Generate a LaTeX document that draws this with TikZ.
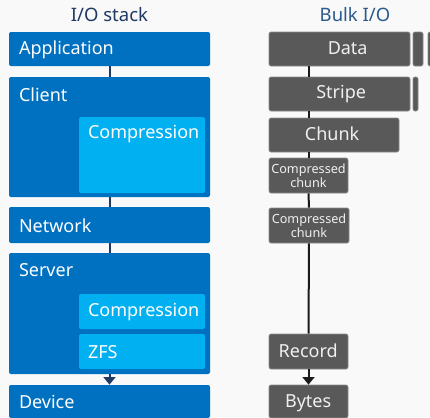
\documentclass[tikz,border=0pt]{standalone}
\usepackage{fontspec}
\setmainfont{Noto Sans}
\usetikzlibrary{positioning,fit,calc,arrows.meta}

\definecolor{pagebg}{HTML}{F9F9F9}
\definecolor{layerblue}{HTML}{0070C0}
\definecolor{innerblue}{HTML}{00B0F0}
\definecolor{stackline}{HTML}{1F3864}
\definecolor{bulktitle}{HTML}{2A5A8C}
\definecolor{bulkgrey}{HTML}{595959}
\definecolor{bulkline}{HTML}{1A1A1A}

\tikzset{
  layer/.style={fill=layerblue, rounded corners=1.2pt, inner sep=0pt},
  sublayer/.style={fill=innerblue, rounded corners=1.2pt, inner sep=0pt},
  bulk/.style={fill=bulkgrey, draw=bulkgrey!70!white, line width=0.4pt,
    rounded corners=1.2pt, inner sep=0pt},
  lbl/.style={anchor=base west, inner sep=0pt, text=white,
    font=\fontsize{10.8}{12}\selectfont},
  bulklbl/.style={anchor=base, inner sep=0pt, text=white!94!black,
    font=\fontsize{10.8}{12}\selectfont},
  small/.style={inner sep=0pt, text=white!94!black, align=center,
    font=\fontsize{7.6}{7.2}\selectfont},
  heading/.style={anchor=base, inner sep=0pt, font=\fontsize{11.1}{12}\selectfont},
  stackconn/.style={stackline, line width=1.2pt},
  bulkconn/.style={bulkline, line width=1.2pt}
}

\begin{document}
\begin{tikzpicture}[x=0.6pt, y=-0.6pt]
  % page
  \fill[pagebg] (0,0) rectangle (430,417);
  \useasboundingbox (0,0) rectangle (430,417);
  \clip (0,0) rectangle (430,417);

  % Titles
  \node[heading, text=stackline] (stacktitle) at (109.5,21) {I/O stack};
  \node[heading, text=bulktitle] (bulktitle) at (355,21) {Bulk I/O};

  % I/O stack
  \node[layer, fit={(9,32) (210,66)}] (app) {};
  \node[layer, fit={(9,77) (210,197)}] (client) {};
  \node[sublayer, fit={(79,117) (205,193)}] (cmpclient) {};
  \node[layer, fit={(9,207) (210,243)}] (net) {};
  \node[layer, fit={(9,253) (210,374)}] (server) {};
  \node[sublayer, fit={(79,294) (205,329)}] (cmpserver) {};
  \node[sublayer, fit={(79,334) (205,369)}] (zfs) {};
  \node[layer, fit={(9,385) (210,418)}] (device) {};

  \node[lbl] (applbl) at ($(app.north west)+(10,23)$) {Application};
  \node[lbl] (clientlbl) at ($(client.north west)+(10,25)$) {Client};
  \node[lbl] (cmpclientlbl) at ($(cmpclient.north west)+(9,22)$) {Compression};
  \node[lbl] (netlbl) at ($(net.north west)+(10,26)$) {Network};
  \node[lbl] (serverlbl) at ($(server.north west)+(10,24)$) {Server};
  \node[lbl] (cmpserverlbl) at ($(cmpserver.north west)+(9,23)$) {Compression};
  \node[lbl] (zfslbl) at ($(zfs.north west)+(9,24.5)$) {ZFS};
  \node[lbl] (devicelbl) at ($(device.north west)+(10,24)$) {Device};

  \draw[stackconn] (app) -- (client);
  \draw[stackconn] (client) -- (net);
  \draw[stackconn] (net) -- (server);
  \draw[stackconn, -{Triangle[width=7pt,length=4.5pt]}] (server) -- (device);

  % Bulk I/O
  \node[bulk, fit={(269,32) (410,66)}] (data) {};
  \node[bulk, fit={(413,32) (423,66)}] (data2) {};
  \node[bulk, fit={(428,32) (440,66)}] (data3) {};
  \node[bulk, fit={(269,77) (410,111)}] (stripe) {};
  \node[bulk, fit={(413,77) (418,111)}] (stripe2) {};
  \node[bulk, fit={(269,118) (399,152)}] (chunk) {};
  \node[bulk, fit={(269,158) (348,193)}] (cc1) {};
  \node[bulk, fit={(269,208) (349,243)}] (cc2) {};
  \node[bulk, fit={(269,334) (348,369)}] (rec) {};
  \node[bulk, fit={(269,385) (348,418)}] (bytes) {};

  \node[bulklbl] (datalbl) at ($(data.north west)+(79,23)$) {Data};
  \node[bulklbl] (stripelbl) at ($(stripe.north west)+(72.5,22)$) {Stripe};
  \node[bulklbl] (chunklbl) at ($(chunk.north west)+(63.5,22.5)$) {Chunk};
  \node[small] (cc1lbl) at (cc1) {Compressed\\chunk};
  \node[small] (cc2lbl) at (cc2) {Compressed\\chunk};
  \node[bulklbl] (reclbl) at ($(rec.north west)+(39.5,24)$) {Record};
  \node[bulklbl] (byteslbl) at ($(bytes.north west)+(39.5,22.5)$) {Bytes};

  \draw[bulkconn] (data.south -| cc1) -- (stripe.north -| cc1);
  \draw[bulkconn] (stripe.south -| cc1) -- (chunk.north -| cc1);
  \draw[bulkconn] (chunk.south -| cc1) -- (cc1);
  \draw[bulkconn] (cc1) -- (cc2);
  \draw[bulkconn] (cc2) -- (rec);
  \draw[bulkconn, -{Triangle[width=7pt,length=4.5pt]}] (rec) -- (bytes);
\end{tikzpicture}
\end{document}
